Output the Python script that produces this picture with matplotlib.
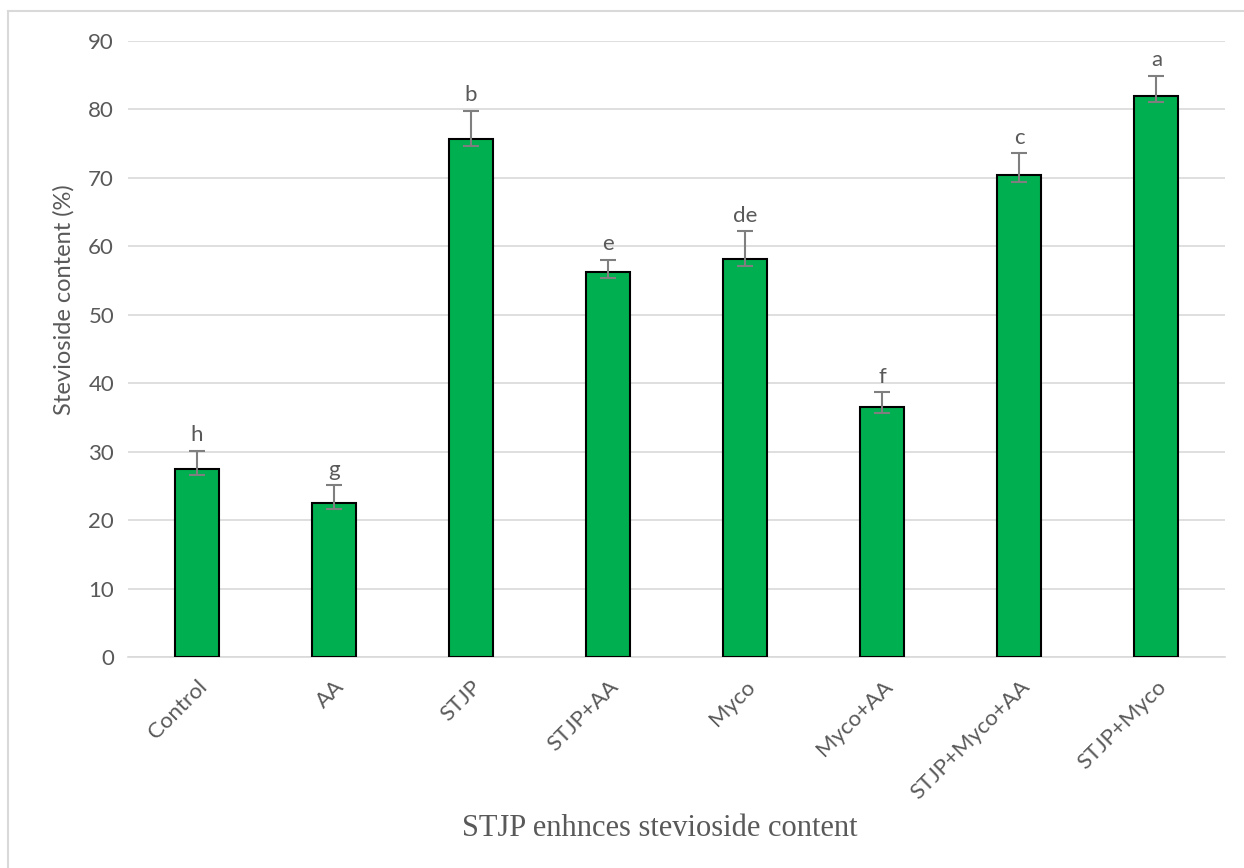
import matplotlib.pyplot as plt
from matplotlib.lines import Line2D

# Data
treatments = ['Control', 'AA', 'STJP', 'STJP+AA', 'Myco', 'Myco+AA', 'STJP+Myco+AA', 'STJP+Myco']
stevioside = [27.5, 22.5, 75.7, 56.3, 58.2, 36.5, 70.4, 82.0]
err_low = [0.9, 0.9, 1.0, 1.0, 1.1, 0.9, 1.0, 0.9]
err_high = [2.6, 2.6, 4.1, 1.7, 4.0, 2.2, 3.2, 2.9]
letters = ['h', 'g', 'b', 'e', 'de', 'f', 'c', 'a']

plt.rcParams['font.family'] = ['Lato', 'DejaVu Sans']
txt = '#595959'

fig = plt.figure(figsize=(12.44, 8.68), dpi=100)
ax = fig.add_axes([0.1029, 0.2431, 0.8818, 0.7097])

x = range(len(treatments))
ax.bar(x, stevioside, width=0.32, color='#00B050', edgecolor='black', linewidth=1.5, zorder=3)
ax.errorbar(x, stevioside, yerr=[err_low, err_high], fmt='none', ecolor='#7f7f7f',
            elinewidth=1.5, capsize=6, capthick=1.5, zorder=4)

# significance letters
for i, (v, e, l) in enumerate(zip(stevioside, err_high, letters)):
    ax.annotate(l, (i, v + e), xytext=(0, 4), textcoords='offset points',
                ha='center', va='bottom', fontsize=16, color=txt)

ax.set_xlim(-0.5, len(treatments) - 0.5)
ax.set_ylim(0, 90)
ax.set_yticks(range(0, 91, 10))
ax.set_xticks(list(x))
ax.set_xticklabels(treatments, rotation=45, ha='right', rotation_mode='anchor')
ax.tick_params(length=0, labelsize=16, labelcolor=txt, pad=10)
ax.tick_params(axis='x', pad=14)
ax.grid(axis='y', color='#d9d9d9', linewidth=1.2, zorder=0)
for s in ['top', 'right', 'left']:
    ax.spines[s].set_visible(False)
ax.spines['bottom'].set_color('#d9d9d9')
ax.spines['bottom'].set_linewidth(1.2)

ax.set_ylabel('Stevioside content (%)', fontsize=17, color=txt)
ax.yaxis.set_label_coords(-0.049, 0.58)
fig.text(0.53, 0.046, 'STJP enhnces stevioside content', ha='center', va='center',
         fontsize=22, color=txt, family='Liberation Serif')

# outer chart border
fig.add_artist(Line2D([0.0065, 0.0065], [0, 0.987], color='#d9d9d9', lw=1.5))
fig.add_artist(Line2D([0.0065, 1], [0.987, 0.987], color='#d9d9d9', lw=1.5))

fig.savefig('out.png', dpi=100)
